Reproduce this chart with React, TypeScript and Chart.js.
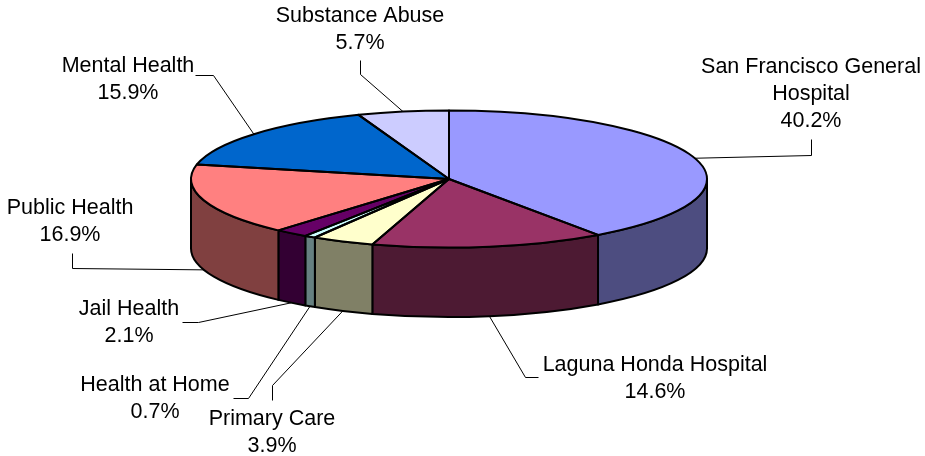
import React, { useEffect, useRef } from "react";
import { Chart, registerables } from "chart.js";

Chart.register(...registerables);

const categories = [
  "San Francisco General Hospital",
  "Laguna Honda Hospital",
  "Primary Care",
  "Health at Home",
  "Jail Health",
  "Public Health",
  "Mental Health",
  "Substance Abuse",
];
const values = [40.2, 14.6, 3.9, 0.7, 2.1, 16.9, 15.9, 5.7];
const topColors = ["#9999FF", "#993366", "#FFFFCC", "#CCFFFF", "#660066", "#FF8080", "#0066CC", "#CCCCFF"];
const sideColors = ["#4D4D80", "#4D1A33", "#808066", "#668080", "#330033", "#804040", "#003366", "#666680"];

// Label layout: wrapped name lines, text centre, line centres, and leader elbows
const labelLines = [
  ["San Francisco General", "Hospital"],
  ["Laguna Honda Hospital"],
  ["Primary Care"],
  ["Health at Home"],
  ["Jail Health"],
  ["Public Health"],
  ["Mental Health"],
  ["Substance Abuse"],
];
const labelX = [811, 655, 272, 155, 129, 70, 128, 360];
const labelY = [67, 365, 419, 385, 309, 208, 66, 16];
const lineGap = 27;
const leaders: number[][][] = [
  [[811, 155], [811, 139]],
  [[525, 377], [538, 377]],
  [[272, 385], [272, 400]],
  [[248, 398], [233, 398]],
  [[198, 322], [182, 322]],
  [[72, 268], [72, 253]],
  [[213, 75], [195, 75]],
  [[360, 74], [360, 60]],
];

const CX = 449;
const CY = 179;
const RX = 258;
const RY = 68.5;
const DEPTH = 69.5;
const W = 925;
const H = 456;

const pie3d = {
  id: "pie3d",
  beforeDatasetsDraw(chart: any) {
    const ctx = chart.ctx;
    const arcs = chart.getDatasetMeta(0).data;
    const { x, y, outerRadius } = arcs[0];
    const ry = outerRadius * (RY / RX);
    // side wall of the slices facing the viewer
    arcs.forEach((arc: any, i: number) => {
      const a = Math.max(arc.startAngle, 0);
      const b = Math.min(arc.endAngle, Math.PI);
      if (b <= a) return;
      ctx.save();
      ctx.beginPath();
      ctx.ellipse(x, y, outerRadius, ry, 0, a, b);
      ctx.ellipse(x, y + DEPTH, outerRadius, ry, 0, b, a, true);
      ctx.closePath();
      ctx.fillStyle = sideColors[i];
      ctx.fill();
      ctx.strokeStyle = "#000";
      ctx.lineWidth = 2;
      ctx.lineJoin = "round";
      ctx.stroke();
      ctx.restore();
    });
    // squash the library's arcs into the tilted top face
    ctx.save();
    ctx.translate(x, y);
    ctx.scale(1, RY / RX);
    ctx.translate(-x, -y);
  },
  afterDatasetsDraw(chart: any) {
    const ctx = chart.ctx;
    ctx.restore();
    const arcs = chart.getDatasetMeta(0).data;
    const { x, y, outerRadius } = arcs[0];
    const ry = outerRadius * (RY / RX);

    ctx.save();
    ctx.strokeStyle = "#000";
    ctx.lineWidth = 2;
    ctx.lineJoin = "round";
    arcs.forEach((arc: any) => {
      ctx.beginPath();
      ctx.moveTo(x, y);
      ctx.ellipse(x, y, outerRadius, ry, 0, arc.startAngle, arc.endAngle);
      ctx.closePath();
      ctx.stroke();
    });
    ctx.restore();

    // leaders and labels
    ctx.save();
    arcs.forEach((arc: any, i: number) => {
      const mid = (arc.startAngle + arc.endAngle) / 2;
      const sx = x + outerRadius * Math.cos(mid);
      let sy = y + ry * Math.sin(mid);
      if (Math.sin(mid) > 0) sy += DEPTH;
      ctx.beginPath();
      ctx.moveTo(sx, sy);
      leaders[i].forEach((p) => ctx.lineTo(p[0] + 0.5, p[1] + 0.5));
      ctx.strokeStyle = "#000";
      ctx.lineWidth = 1;
      ctx.stroke();

      ctx.fillStyle = "#000";
      ctx.font = '21.5px "Liberation Sans", Arial, sans-serif';
      ctx.textAlign = "center";
      ctx.textBaseline = "middle";
      const lines = [...labelLines[i], values[i].toFixed(1) + "%"];
      lines.forEach((t, k) => ctx.fillText(t, labelX[i], labelY[i] + k * lineGap));
    });
    ctx.restore();
  },
};

export default function App() {
  const ref = useRef<HTMLCanvasElement>(null);
  useEffect(() => {
    document.body.style.margin = "0";
    document.body.style.background = "#fff";
    const chart = new Chart(ref.current as HTMLCanvasElement, {
      type: "pie",
      data: {
        labels: categories,
        datasets: [
          {
            data: values,
            backgroundColor: topColors,
            borderWidth: 0,
            clip: false,
          } as any,
        ],
      },
      options: {
        responsive: false,
        animation: false,
        radius: RX,
        layout: { padding: { left: 0, top: 0, right: W - 2 * CX, bottom: H - 2 * CY } },
        plugins: { legend: { display: false }, tooltip: { enabled: false } },
      } as any,
      plugins: [pie3d],
    });
    return () => chart.destroy();
  }, []);
  return (
    <div style={{ width: W, height: H, background: "#fff" }}>
      <canvas ref={ref} width={W} height={H} style={{ display: "block" }} />
    </div>
  );
}
